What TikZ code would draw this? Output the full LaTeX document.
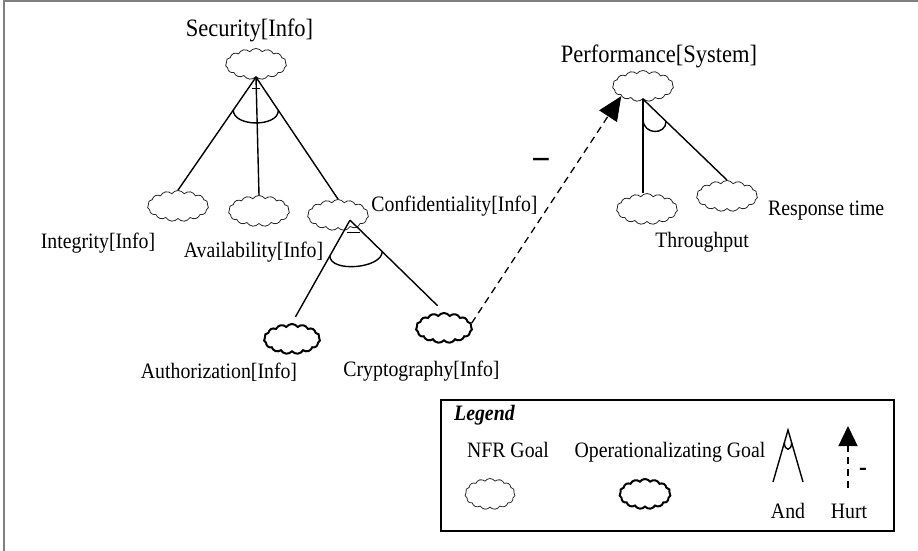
\documentclass[tikz,border=0pt]{standalone}
\usepackage{fontspec}
\setmainfont{Liberation Serif}[FakeStretch=0.9]
\usetikzlibrary{shapes.symbols,arrows.meta,calc}
\begin{document}
\begin{tikzpicture}[x=1pt,y=-1pt,
 nfr/.style={cloud, cloud puffs=15, cloud puff arc=110, aspect=2, draw=black!85, line width=0.8pt, minimum width=61pt, minimum height=31pt, inner sep=0pt},
 opg/.style={nfr, draw=black, line width=2pt, minimum width=56pt, minimum height=30pt},
 lbl/.style={font=\fontsize{22}{26}\selectfont, inner sep=0pt, anchor=base},
 ttl/.style={lbl, font=\fontsize{25}{30}\selectfont},
 link/.style={line width=1.4pt},
 hurtline/.style={line width=1.3pt, dash pattern=on 7pt off 5pt},
]
\useasboundingbox (0,0) rectangle (918,551);
\draw[gray, line width=2pt] (4,551) -- (4,1) -- (918,1);

% goals
\node[nfr] (sec) at (256,64) {};
\node[nfr] (int) at (178,206) {};
\node[nfr] (ava) at (259,211) {};
\node[nfr] (conf) at (338,215) {};
\node[opg] (auth) at (292,339) {};
\node[opg] (cry) at (444,328) {};
\node[nfr] (perf) at (643,86) {};
\node[nfr] (thr) at (647,209) {};
\node[nfr] (resp) at (727,196) {};

% labels
\node[ttl] (secl) at (249.5,37) {Security[Info]};
\node[ttl] (perfl) at (659,63) {Performance[System]};
\node[lbl] (intl) at (98,248) {Integrity[Info]};
\node[lbl] (aval) at (253.5,257) {Availability[Info]};
\node[lbl] (confl) at (454.5,211) {Confidentiality[Info]};
\node[lbl] (authl) at (219,378) {Authorization[Info]};
\node[lbl] (cryl) at (421.5,376) {Cryptography[Info]};
\node[lbl] (thrl) at (702,247) {Throughput};
\node[lbl, anchor=base west] (respl) at (768,215) {Response time};

% Security decomposition
\draw[link] (sec.south) -- (int.north);
\draw[link] (sec.south) -- (ava.north);
\draw[link] (sec.south) -- (conf.north);
\draw[link] ($(sec.south)!40pt!(int.north)$) .. controls +(0,17) and +(0,17) .. ($(sec.south)!40pt!(conf.north)$);
\draw[line width=0.7pt] ($(sec.south)+(-4,11)$) -- ($(sec.south)+(4,11)$);

% Confidentiality decomposition
\coordinate (confapex) at ($(conf.south)+(12,-8)$);
\draw[link, shorten >=7pt] (confapex) -- (auth.north);
\draw[link, shorten >=9pt] (confapex) -- (cry.north);
\draw[link] ($(confapex)!41pt!(auth.north)$) .. controls +(0,17) and +(0,17) .. ($(confapex)!45pt!(cry.north)$);
\draw[line width=0.7pt] ($(confapex)+(-3,12)$) -- ($(confapex)+(10,12)$);

% Performance decomposition
\draw[link] (perf.south) -- (thr.north -| perf.south);
\draw[link] (perf.south) -- (resp.north);
\draw[link] ($(perf.south)!20pt!(thr.north -| perf.south)$) .. controls +(0,16) and +(0,14) .. ($(perf.south)!32pt!(resp.north)$);

% hurt contribution
\draw[hurtline, -{Triangle[length=24pt,width=21pt]}] (cry.10) -- (perf.205);
\node[font=\fontsize{34}{38}\selectfont\bfseries, inner sep=0pt] (hurtm) at (541,163) {–};

% legend
\draw[line width=1.2pt] (441,400) rectangle (894,531);
\node[lbl, anchor=base west, font=\fontsize{22}{26}\selectfont\bfseries\itshape] (legt) at (454,420) {Legend};
\node[lbl] (nfrl) at (508,457) {NFR Goal};
\node[lbl] (opl) at (670,457) {Operationalizating Goal};
\node[nfr, minimum width=50pt] (lnfr) at (490,494) {};
\node[opg, minimum width=51pt] (lop) at (645,494) {};
\coordinate (landapex) at (788,430);
\coordinate (landl) at (773,482);
\coordinate (landr) at (803,482);
\draw[link] (landl) -- (landapex) -- (landr);
\draw[link] ($(landapex)!13pt!(landl)$) .. controls +(0,9) and +(0,9) .. ($(landapex)!13pt!(landr)$);
\node[lbl] (andl) at (788,518) {And};
\coordinate (lhb) at (848,488);
\coordinate (lht) at (848,426);
\draw[hurtline, -{Triangle[length=20pt,width=19pt]}] (lhb) -- (lht);
\node[lbl, font=\fontsize{26}{30}\selectfont\bfseries] (lhm) at (863,475) {-};
\node[lbl] (hurtl) at (849,518) {Hurt};
\end{tikzpicture}
\end{document}
